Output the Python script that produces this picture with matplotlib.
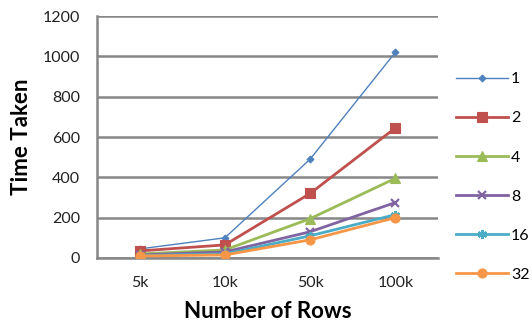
import matplotlib.pyplot as plt

plt.rcParams['font.family'] = ['Lato', 'DejaVu Sans']

rows = ["5k", "10k", "50k", "100k"]
threads = ["1", "2", "4", "8", "16", "32"]

t1 = [45, 100, 490, 1020]
t2 = [35, 65, 320, 645]
t4 = [20, 40, 195, 395]
t8 = [15, 30, 130, 275]
t16 = [12, 20, 110, 215]
t32 = [10, 15, 90, 200]
series = [t1, t2, t4, t8, t16, t32]

colors = ["#4F81BD", "#C0504D", "#9BBB59", "#8064A2", "#4BACC6", "#F79646"]
markers = ["D", "s", "^", "x", (6, 2, 0), "o"]
msizes = [3.5, 6.5, 6.5, 6, 6.5, 6.5]
lwidths = [1.0, 2.0, 2.0, 2.0, 2.0, 2.0]

fig = plt.figure(figsize=(5.32, 3.26), dpi=100)
ax = fig.add_axes([0.1823, 0.2086, 0.641, 0.7423])

x = range(len(rows))
for vals, lab, c, m, ms, lw in zip(series, threads, colors, markers, msizes, lwidths):
    ax.plot(x, vals, color=c, marker=m, markersize=ms, linewidth=lw,
            markeredgewidth=1.6 if m in ("x", (6, 2, 0)) else 0.8,
            label=lab, zorder=3)

ax.set_xlim(-0.5, len(rows) - 0.5)
ax.set_ylim(0, 1200)
ax.set_yticks(range(0, 1201, 200))
ax.set_xticks(list(x))
ax.set_xticklabels(rows)
ax.tick_params(axis='both', length=0, labelsize=11.5, colors='#222222')
ax.tick_params(axis='x', pad=13)
ax.tick_params(axis='y', pad=12)

ax.yaxis.grid(True, color='#878787', linewidth=1.8)
ax.set_axisbelow(True)
for s in ("top", "right"):
    ax.spines[s].set_visible(False)
for s in ("left", "bottom"):
    ax.spines[s].set_color('#878787')
    ax.spines[s].set_linewidth(1.8)

ax.set_ylabel("Time Taken", fontsize=16, fontweight='bold', va='center')
ax.yaxis.set_label_coords(-0.22, 0.5)
ax.set_xlabel("Number of Rows", fontsize=16, fontweight='bold', va='center')
ax.xaxis.set_label_coords(0.5, -0.222)

ax.legend(loc='upper left', bbox_to_anchor=(1.053, 0.768), frameon=False,
          fontsize=11.5, labelspacing=1.56, handlelength=3.25, handletextpad=0.2,
          borderaxespad=0, borderpad=0)

fig.savefig("out.png", dpi=100)
